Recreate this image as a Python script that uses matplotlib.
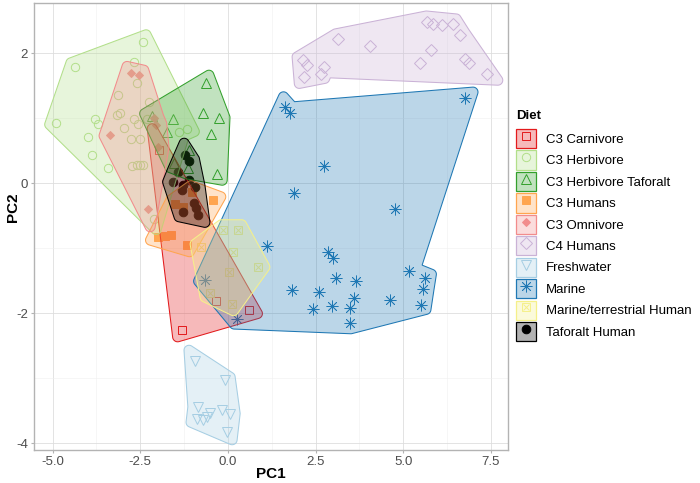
import numpy as np
import matplotlib
matplotlib.use('Agg')
import matplotlib.pyplot as plt
from matplotlib.patches import Polygon, Patch
from matplotlib.lines import Line2D
from matplotlib.legend_handler import HandlerTuple
from matplotlib.colors import to_rgba

plt.rcParams['font.family'] = ['Liberation Sans', 'DejaVu Sans']

# ---- data (PC scores) ----
diets = ['C3 Carnivore', 'C3 Herbivore', 'C3 Herbivore Taforalt', 'C3 Humans',
         'C3 Omnivore', 'C4 Humans', 'Freshwater', 'Marine',
         'Marine/terrestrial Human', 'Taforalt Human']

carnivore_pc1 = [-1.96, -1.30, -0.33, 0.61]
carnivore_pc2 = [0.52, -2.25, -1.81, -1.95]

herbivore_pc1 = [-2.41, -4.35, -2.69, -2.58, -3.12, -3.09, -3.15, -3.78, -3.69, -4.90,
                 -2.95, -2.67, -2.26, -2.31, -2.55, -3.98, -2.76, -2.50, -3.88, -3.41,
                 -2.74, -2.60, -2.50, -2.41, -1.38, -1.17, -2.12]
herbivore_pc2 = [2.18, 1.79, 1.87, 1.54, 1.36, 1.08, 1.05, 0.99, 0.91, 0.93,
                 0.86, 0.99, 1.26, 0.99, 0.92, 0.71, 0.68, 0.69, 0.44, 0.23,
                 0.27, 0.28, 0.28, 0.28, 0.79, 0.84, -0.55]

herb_taf_pc1 = [-0.62, -0.70, -0.24, -0.49, -0.31, -1.57, -2.17, -1.74, -1.12, -1.15, -1.53]
herb_taf_pc2 = [1.54, 1.09, 1.00, 0.76, 0.15, 0.99, 1.04, 0.79, 0.51, 0.23, 0.31]

c3_humans_pc1 = [-0.43, -1.50, -1.27, -1.03, -1.98, -1.79, -1.63, -1.17]
c3_humans_pc2 = [-0.25, -0.31, -0.36, -0.13, -0.82, -0.81, -0.79, -0.95]

omnivore_pc1 = [-2.77, -2.52, -3.36, -2.12, -2.04, -1.98, -2.29]
omnivore_pc2 = [1.70, 1.67, 0.74, 1.00, 0.90, 0.56, -0.40]

c4_humans_pc1 = [5.67, 5.86, 6.10, 6.42, 6.62, 3.13, 4.04, 5.80, 5.48, 6.77,
                 6.89, 7.39, 2.14, 2.25, 2.73, 2.65, 2.18]
c4_humans_pc2 = [2.49, 2.45, 2.43, 2.45, 2.28, 2.22, 2.12, 2.05, 1.86, 1.92,
                 1.86, 1.68, 1.90, 1.82, 1.79, 1.69, 1.64]

freshwater_pc1 = [-0.93, -0.08, -0.84, -0.51, -0.17, 0.05, -0.88, -0.70, -0.60, -0.01]
freshwater_pc2 = [-2.73, -3.03, -3.44, -3.53, -3.49, -3.54, -3.62, -3.64, -3.59, -3.82]

marine_pc1 = [1.63, 1.78, 6.77, 2.75, 1.90, 4.77, 2.87, 2.99, 5.17, 5.63,
              5.58, 3.08, 3.66, 1.84, 2.61, 3.60, 2.97, 3.49, 2.44, 4.63,
              5.51, 1.11, -0.65, 0.26, 3.49]
marine_pc2 = [1.18, 1.09, 1.31, 0.27, -0.14, -0.39, -1.06, -1.15, -1.35, -1.45,
              -1.62, -1.45, -1.50, -1.64, -1.67, -1.76, -1.88, -1.91, -1.93, -1.80,
              -1.87, -0.96, -1.49, -2.08, -2.15]

mar_terr_pc1 = [0.30, -0.13, 0.16, 0.87, 0.02, -0.51, 0.11, -0.76]
mar_terr_pc2 = [-0.72, -0.72, -1.05, -1.28, -1.36, -1.69, -1.85, -0.97]

taforalt_pc1 = [-1.22, -1.10, -1.43, -1.55, -1.29, -1.31, -0.95, -1.12, -0.97, -0.90, -0.84, -1.27]
taforalt_pc2 = [0.44, 0.34, 0.18, 0.02, -0.03, -0.10, -0.05, 0.05, -0.30, -0.38, -0.49, -0.44]

pc1 = [carnivore_pc1, herbivore_pc1, herb_taf_pc1, c3_humans_pc1, omnivore_pc1,
       c4_humans_pc1, freshwater_pc1, marine_pc1, mar_terr_pc1, taforalt_pc1]
pc2 = [carnivore_pc2, herbivore_pc2, herb_taf_pc2, c3_humans_pc2, omnivore_pc2,
       c4_humans_pc2, freshwater_pc2, marine_pc2, mar_terr_pc2, taforalt_pc2]

# ---- styles ----
colors = ['#E31A1C', '#B2DF8A', '#33A02C', '#FFA54F', '#F28C8C',
          '#CAB2D6', '#A6CEE3', '#1F78B4', '#F5F08A', '#000000']
# (marker, filled, size, edge width)
markers = [('s', False, 6, 0.7), ('o', False, 6, 0.7), ('^', False, 7, 0.7),
           ('s', True, 5.5, 0.7), ('D', True, 4, 0.7), ('D', False, 6, 0.7),
           ('v', False, 7, 0.7), ((8, 2, 0), False, 8.5, 0.55), ('s', False, 6, 0.7),
           ('o', True, 6.2, 0.7)]

EXPAND = 10.5      # px
RADIUS = 5.0       # px
CONCAVITY = 4.0
MIN_EDGE = 36.0    # px, shorter hull edges are not refined


def seg_d2(p, a, b):
    ab = b - a
    L = ab @ ab
    t = 0.0 if L == 0 else np.clip((p - a) @ ab / L, 0, 1)
    d = a + t * ab - p
    return d @ d


def orient(a, b, c):
    return (b[0] - a[0]) * (c[1] - a[1]) - (b[1] - a[1]) * (c[0] - a[0])


def convex_hull(P):
    idx = sorted(range(len(P)), key=lambda i: (P[i][0], P[i][1]))
    lower, upper = [], []
    for i in idx:
        while len(lower) >= 2 and orient(P[lower[-2]], P[lower[-1]], P[i]) <= 0:
            lower.pop()
        lower.append(i)
    for i in reversed(idx):
        while len(upper) >= 2 and orient(P[upper[-2]], P[upper[-1]], P[i]) <= 0:
            upper.pop()
        upper.append(i)
    return lower[:-1] + upper[:-1]   # ccw


def concave_hull(P, concavity):
    hull = convex_hull(P)
    rest = set(range(len(P))) - set(hull)

    def crosses(i, j):
        n = len(hull)
        for k in range(n):
            u, v = hull[k], hull[(k + 1) % n]
            if i in (u, v) or j in (u, v):
                continue
            a, b, c, d = P[i], P[j], P[u], P[v]
            if (orient(a, b, c) > 0) != (orient(a, b, d) > 0) and \
               (orient(c, d, a) > 0) != (orient(c, d, b) > 0):
                return True
        return False

    i = 0
    while i < len(hull) and len(hull) >= 3:
        n = len(hull)
        a, b, c, d = hull[i - 1], hull[i], hull[(i + 1) % n], hull[(i + 2) % n]
        sqlen = (P[b] - P[c]) @ (P[b] - P[c])
        if sqlen < MIN_EDGE ** 2:
            i += 1
            continue
        maxsq = sqlen / concavity ** 2
        cands = sorted((seg_d2(P[p], P[b], P[c]), p) for p in rest)
        pick = None
        for dist, p in cands:
            if dist > maxsq:
                break
            if dist < seg_d2(P[p], P[a], P[b]) and dist < seg_d2(P[p], P[c], P[d]) \
               and not crosses(b, p) and not crosses(c, p):
                pick = p
                break
        if pick is not None and min((P[pick] - P[b]) @ (P[pick] - P[b]),
                                    (P[pick] - P[c]) @ (P[pick] - P[c])) <= maxsq:
            hull.insert(i + 1, pick)
            rest.discard(pick)
        else:
            i += 1
    return P[hull]


def offset(poly, dist, join, miter_limit=4.0):
    out = []
    n = len(poly)
    for i in range(n):
        p, v, q = poly[i - 1], poly[i], poly[(i + 1) % n]
        e1 = v - p; e1 = e1 / np.hypot(*e1)
        e2 = q - v; e2 = e2 / np.hypot(*e2)
        n1 = np.array([e1[1], -e1[0]])
        n2 = np.array([e2[1], -e2[0]])
        cr = e1[0] * e2[1] - e1[1] * e2[0]
        if join == 'round' and cr > 1e-9:
            a1 = np.arctan2(n1[1], n1[0]); a2 = np.arctan2(n2[1], n2[0])
            if a2 < a1:
                a2 += 2 * np.pi
            for t in np.linspace(a1, a2, 12):
                out.append(v + dist * np.array([np.cos(t), np.sin(t)]))
        else:
            den = max(1 + n1 @ n2, 1e-3)
            m = (n1 + n2) / den
            L = np.hypot(*m)
            if L > miter_limit:
                m = m / L * miter_limit
            out.append(v + dist * m)
    return np.array(out)


def mark_hull(P):
    P = np.unique(np.round(P, 3), axis=0)
    if len(P) < 3:
        return None
    H = concave_hull(P, CONCAVITY)
    keep = [H[0]]
    for h in H[1:]:
        if np.hypot(*(h - keep[-1])) > 1e-6:
            keep.append(h)
    H = np.array(keep)
    H = offset(H, EXPAND - RADIUS, 'miter')
    H = offset(H, RADIUS, 'round')
    return H


fig = plt.figure(figsize=(7, 4.83), dpi=100)
ax = fig.add_axes([34.3 / 700, 1 - 450 / 483, (508 - 34.3) / 700, (450 - 2.7) / 483])
ax.set_xlim(-5.52, 7.99)
ax.set_ylim(-4.10, 2.78)

ax.set_xticks([-5, -2.5, 0, 2.5, 5, 7.5])
ax.set_xticklabels(['-5.0', '-2.5', '0.0', '2.5', '5.0', '7.5'])
ax.set_yticks([-4, -2, 0, 2])
ax.set_yticklabels(['-4', '-2', '0', '2'])
ax.set_xticks([-3.75, -1.25, 1.25, 3.75, 6.25], minor=True)
ax.set_yticks([-3, -1, 1], minor=True)
ax.grid(True, which='major', color='#DEDEDE', lw=0.6, zorder=0)
ax.grid(True, which='minor', color='#EFEFEF', lw=0.4, zorder=0)
ax.set_axisbelow(True)
for s in ax.spines.values():
    s.set_color('#B3B3B3')
    s.set_linewidth(1.0)
ax.tick_params(which='major', length=2.5, color='#B3B3B3', labelsize=9.5,
               labelcolor='#4D4D4D', pad=2)
ax.tick_params(which='minor', length=0)
ax.set_xlabel('PC1', fontsize=11, fontweight='bold', va='center')
ax.set_ylabel('PC2', fontsize=11, fontweight='bold', va='center')
ax.xaxis.set_label_coords(0.5, (450 - 474) / 447.3)
ax.yaxis.set_label_coords((13 - 34.3) / 473.7, (450 - 207) / 447.3)

handles = []
for k, diet in enumerate(diets):
    col = colors[k]
    mk, filled, ms, mew = markers[k]
    kw = dict(ls='none', marker=mk, ms=ms, mew=mew, color=col,
              mfc=col if filled else 'none', mec=col)
    ax.plot(pc1[k], pc2[k], zorder=2, **kw)
    h_pts = [Line2D([], [], **kw)]
    if diet == 'Marine/terrestrial Human':
        kx = dict(kw, marker='x', ms=ms * 0.8)
        ax.plot(pc1[k], pc2[k], zorder=2, **kx)
        h_pts.append(Line2D([], [], **kx))

    # hull computed in pixel space, drawn back in data space
    pix = ax.transData.transform(np.column_stack([pc1[k], pc2[k]]))
    H = mark_hull(pix)
    if H is not None:
        Hd = ax.transData.inverted().transform(H)
        ax.add_patch(Polygon(Hd, closed=True, facecolor=to_rgba(col, 0.3),
                             edgecolor=col, lw=0.75, zorder=3))
    key = Patch(facecolor=to_rgba(col, 0.3), edgecolor=col, lw=0.9)
    handles.append(tuple(h_pts) + (key,))

leg = fig.legend(handles, diets, loc='upper left', bbox_to_anchor=(516 / 700, 1 - 110 / 483),
                 bbox_transform=fig.transFigure, frameon=False, title='Diet',
                 title_fontproperties={'weight': 'bold', 'size': 9.5}, alignment='left',
                 fontsize=9.5, handlelength=1.52, handleheight=1.87, handletextpad=0.75,
                 labelspacing=0.165, borderpad=0, borderaxespad=0,
                 handler_map={tuple: HandlerTuple(ndivide=1, pad=0)})
leg._legend_box.sep = 5

fig.savefig('out.png', dpi=100, facecolor='white')
